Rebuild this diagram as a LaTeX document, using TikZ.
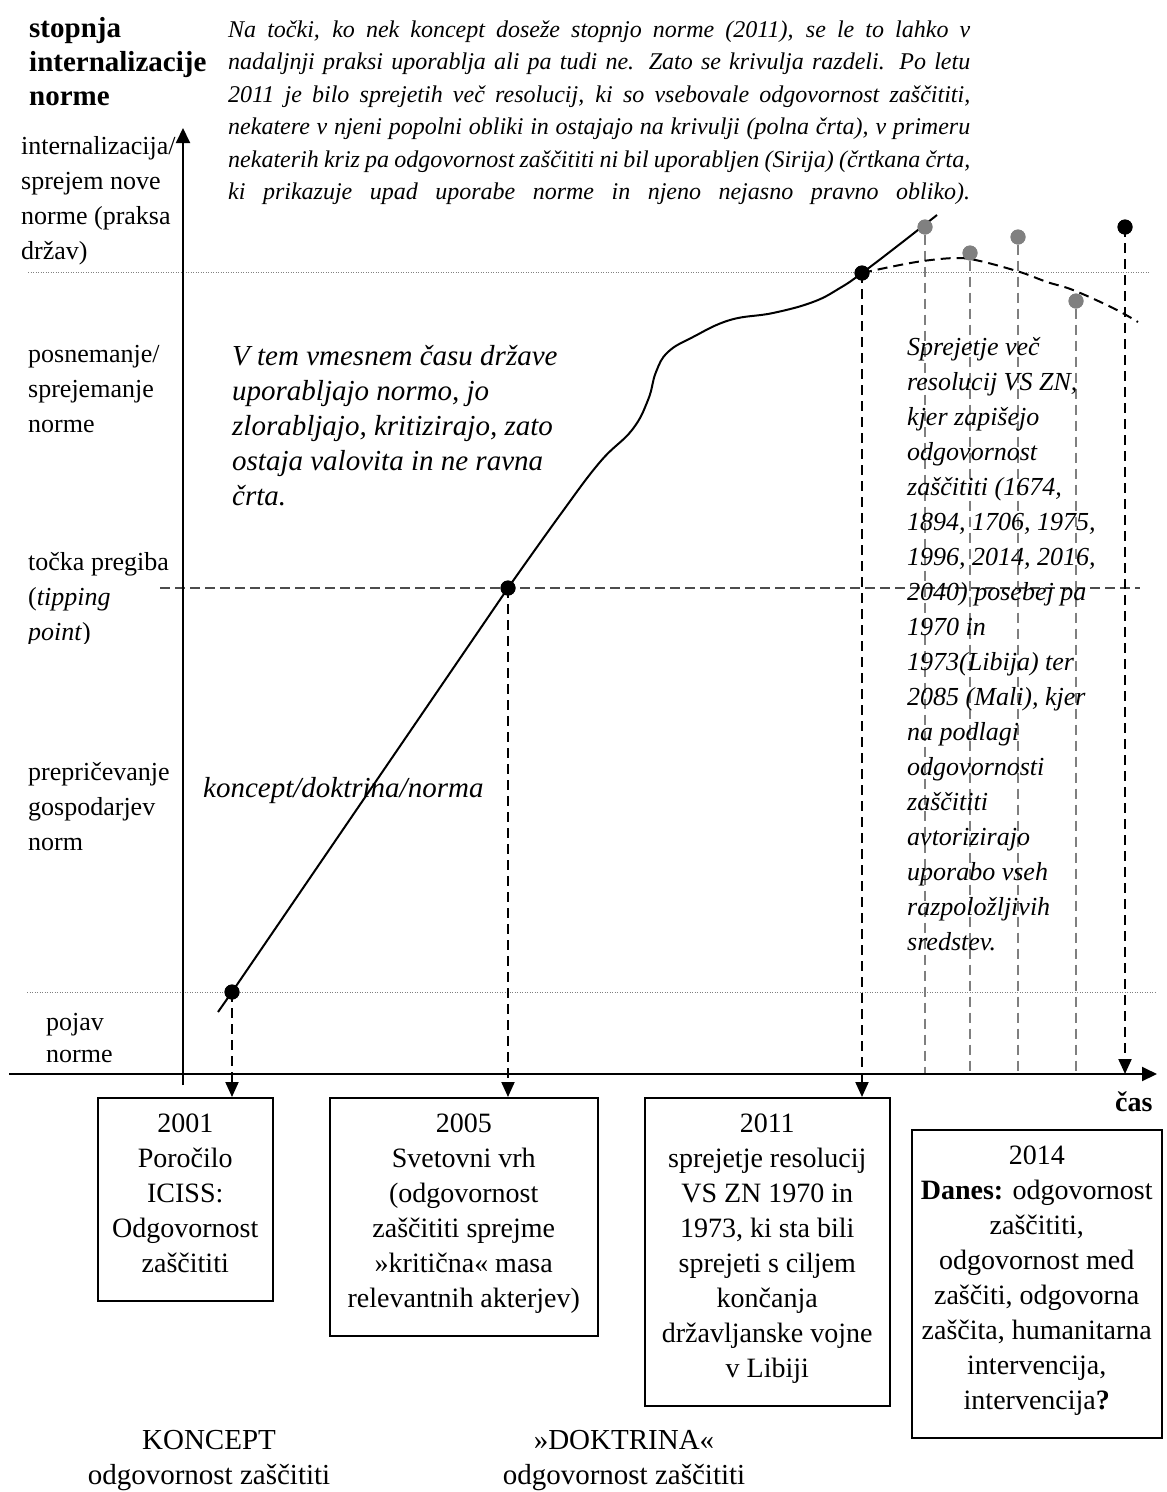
\documentclass[tikz,border=0pt]{standalone}
\usepackage{fontspec}
\setmainfont{Liberation Serif}
\usetikzlibrary{arrows.meta}
\newcommand{\topstr}{\rule{0pt}{25pt}}
\newcommand{\botstr}{\rule[-18pt]{0pt}{18pt}}
\definecolor{dotgray}{HTML}{808080}
\definecolor{linegray}{HTML}{7F7F7F}
\begin{document}
\begin{tikzpicture}[x=1pt,y=-1pt,
  lbl/.style={anchor=north west, inner sep=0pt, align=left, font=\fontsize{26}{35}\selectfont},
  boxnode/.style={draw, line width=1.5pt, anchor=north west, inner xsep=0pt, inner ysep=10pt, align=flush center, font=\fontsize{28}{35}\selectfont},
  dotb/.style={circle, fill=black, inner sep=0pt, minimum size=15pt},
  dotg/.style={circle, fill=dotgray, inner sep=0pt, minimum size=15pt},
  axisline/.style={line width=2pt, -{Triangle[length=15pt,width=14pt]}},
  vdash/.style={line width=2pt, dash pattern=on 10pt off 6pt, -{Triangle[length=15pt,width=13pt]}},
  gdash/.style={line width=2pt, linegray, dash pattern=on 10pt off 6pt},
  dotline/.style={line width=1pt, gray, dash pattern=on 1pt off 1.5pt},
  tipline/.style={line width=1.2pt, black!70, dash pattern=on 10pt off 5pt},
  curveline/.style={line width=2pt}
]
\useasboundingbox (0,0) rectangle (1167,1492);

% axes coordinates
\coordinate (xl) at (9,1074);
\coordinate (xr) at (1157,1074);
\coordinate (yb) at (183,1085);
\coordinate (yt) at (183,128);

% guide lines
\draw[dotline] (28,272) -- (1150,272);
\draw[dotline] (27,992) -- (1157,992);
\draw[tipline] (160,588) -- (1140,588);

% boxes
\node[boxnode, text width=175pt] (box1) at (97,1097)
  {\topstr 2001\\ Poročilo\\ ICISS:\\ Odgovornost\\ zaščititi\botstr};
\node[boxnode, text width=268pt] (box2) at (329,1097)
  {\topstr 2005\\ Svetovni vrh\\ (odgovornost\\ zaščititi sprejme\\ »kritična« masa\\ relevantnih akterjev)\botstr};
\node[boxnode, text width=245pt] (box3) at (644,1097)
  {\topstr 2011\\ sprejetje resolucij\\ VS ZN 1970 in\\ 1973, ki sta bili\\ sprejeti s ciljem\\ končanja\\ državljanske vojne\\ v Libiji\botstr};
\node[boxnode, text width=250pt] (box4) at (911,1129)
  {\topstr 2014\\ \textbf{Danes:} odgovornost\\ zaščititi,\\ odgovornost med\\ zaščiti, odgovorna\\ zaščita, humanitarna\\ intervencija,\\ intervencija\textbf{?}\botstr};

% dots
\node[dotb] (d2001) at (232,992) {};
\node[dotb] (d2005) at (508,588) {};
\node[dotb] (d2011) at (862,273) {};
\node[dotg] (g1) at (925,227) {};
\node[dotg] (g2) at (970,253) {};
\node[dotg] (g3) at (1018,237) {};
\node[dotg] (g4) at (1076,301) {};
\node[dotb] (bd) at (1125,227) {};

% vertical dashed connectors
\draw[gdash] (g1) -- (g1 |- xr);
\draw[gdash] (g2) -- (g2 |- xr);
\draw[gdash] (g3) -- (g3 |- xr);
\draw[gdash] (g4) -- (g4 |- xr);
\draw[vdash] (d2001.center) -- (d2001 |- box1.north);
\draw[vdash] (d2005.center) -- (d2005 |- box2.north);
\draw[vdash] (d2011.center) -- (d2011 |- box3.north);
\draw[vdash] (bd.center) -- (bd |- xr);

% axes
\draw[axisline] (xl) -- (xr);
\draw[axisline] (yb) -- (yt);

% curves
\draw[curveline] (218,1012) -- (d2001.center) -- (d2005.center);
\draw[curveline] plot[smooth, tension=0.7] coordinates {(508,588) (560,515) (600,462) (632,430) (648,400) (656,372) (668,352) (693,337) (730,320) (773,313) (813,302) (840,288) (862,273) (900,244) (937,215)};
\draw[line width=2pt, dash pattern=on 10pt off 6pt] plot[smooth, tension=0.6] coordinates {(862,273) (890,267) (923,261) (957,258) (980,261) (1020,272) (1047,282) (1073,290) (1113,308) (1138,322)};

% redraw dots on top
\fill (d2001) circle (7.5pt);
\fill (d2005) circle (7.5pt);
\fill (d2011) circle (7.5pt);
\fill (bd) circle (7.5pt);
\fill[dotgray] (g1) circle (7.5pt);
\fill[dotgray] (g2) circle (7.5pt);
\fill[dotgray] (g3) circle (7.5pt);
\fill[dotgray] (g4) circle (7.5pt);

% title
\node[lbl, font=\bfseries\fontsize{29}{34}\selectfont] (title) at (29,12)
  {\topstr stopnja\\ internalizacije\\ norme};

% top paragraph
\node[lbl, font=\itshape\fontsize{24}{32.5}\selectfont] (para) at (228,12)
  {\topstr\makebox[742pt][s]{Na točki, ko nek koncept doseže stopnjo norme (2011), se le to lahko v}\\
   \makebox[742pt][s]{nadaljnji praksi uporablja ali pa tudi ne. Zato se krivulja razdeli. Po letu}\\
   \makebox[742pt][s]{2011 je bilo sprejetih več resolucij, ki so vsebovale odgovornost zaščititi,}\\
   \makebox[742pt][s]{nekatere v njeni popolni obliki in ostajajo na krivulji (polna črta), v primeru}\\
   \makebox[742pt][s]{nekaterih kriz pa odgovornost zaščititi ni bil uporabljen (Sirija) (črtkana črta,}\\
   \makebox[742pt][s]{ki prikazuje upad uporabe norme in njeno nejasno pravno obliko).}};

% left labels
\node[lbl] (lab1) at (21,129)
  {\topstr internalizacija/\\ sprejem nove\\ norme (praksa\\ držav)};
\node[lbl] (lab2) at (28,337)
  {\topstr posnemanje/\\ sprejemanje\\ norme};
\begin{scope}
\clip (0,520) rectangle (180,643);
\node[lbl] (lab3) at (28,545)
  {\topstr točka pregiba\\ (\textit{tipping}\\ \textit{point})};
\end{scope}
\node[lbl] (lab4) at (28,755)
  {\topstr prepričevanje\\ gospodarjev\\ norm};
\node[lbl] (lab5) at (46,1005)
  {\topstr pojav\\[-3pt] norme};

% middle texts
\node[lbl, font=\itshape\fontsize{29}{35}\selectfont] (mid) at (232,340)
  {\topstr V tem vmesnem času države\\ uporabljajo normo, jo\\ zlorabljajo, kritizirajo, zato\\ ostaja valovita in ne ravna\\ črta.};
\node[lbl, font=\itshape\fontsize{29}{35}\selectfont] (knd) at (203,772)
  {\topstr koncept/doktrina/norma};

% right text
\node[lbl, font=\itshape\fontsize{26}{35}\selectfont] (rt) at (907,330)
  {\topstr Sprejetje več\\ resolucij VS ZN,\\ kjer zapišejo\\ odgovornost\\ zaščititi (1674,\\ 1894, 1706, 1975,\\ 1996, 2014, 2016,\\ 2040) posebej pa\\ 1970 in\\ 1973(Libija) ter\\ 2085 (Mali), kjer\\ na podlagi\\ odgovornosti\\ zaščititi\\ avtorizirajo\\ uporabo vseh\\ razpoložljivih\\ sredstev.};

% axis label
\node[anchor=base west, inner sep=0pt, font=\bfseries\fontsize{28}{34}\selectfont] (cas) at (1115,1111) {čas};

% bottom labels
\node[anchor=base, inner sep=0pt, font=\fontsize{29}{35}\selectfont] (kon1) at (209,1449) {KONCEPT};
\node[anchor=base, inner sep=0pt, font=\fontsize{29}{35}\selectfont] (kon2) at (209,1484) {odgovornost zaščititi};
\node[anchor=base, inner sep=0pt, font=\fontsize{29}{35}\selectfont] (dok1) at (624,1449) {»DOKTRINA«};
\node[anchor=base, inner sep=0pt, font=\fontsize{29}{35}\selectfont] (dok2) at (624,1484) {odgovornost zaščititi};
\end{tikzpicture}
\end{document}
